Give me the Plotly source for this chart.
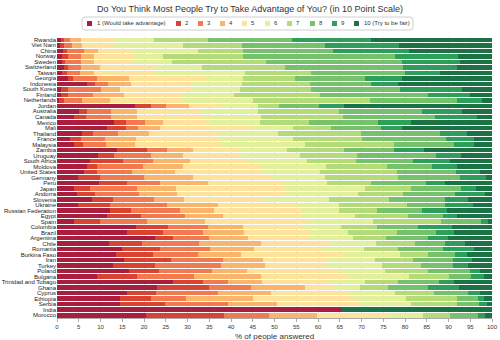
import plotly.graph_objects as go

countries = ["Rwanda", "Viet Nam", "China", "Norway", "Sweden", "Switzerland", "Taiwan", "Georgia",
             "Indonesia", "South Korea", "Finland", "Netherlands", "Jordan", "Australia", "Canada",
             "Mexico", "Mali", "Thailand", "France", "Malaysia", "Zambia", "Uruguay", "South Africa",
             "Moldova", "United States", "Germany", "Peru", "Japan", "Andorra", "Slovenia", "Ukraine",
             "Russian Federation", "Egypt", "Spain", "Colombia", "Brazil", "Argentina", "Chile",
             "Romania", "Burkina Faso", "Iran", "Turkey", "Poland", "Bulgaria", "Trinidad and Tobago",
             "Ghana", "Cyprus", "Ethiopia", "Serbia", "India", "Morocco"]

lvl1 = [0.9, 0.8, 1.4, 1.1, 1.2, 1.7, 1.1, 2.5, 7.0, 0.9, 0.9, 0.5, 17.9, 5.1, 3.9, 13.2, 11.5, 5.7, 2.9, 3.9, 13.7, 9.5, 7.6, 6.8, 6.1, 4.9, 9.7, 4.0, 4.7, 8.0, 4.9, 12.2, 11.4, 3.8, 18.2, 16.2, 22.5, 12.0, 14.9, 13.6, 15.5, 12.9, 16.6, 9.1, 26.6, 23.1, 16.2, 14.5, 14.5, 65.6, 20.5]
lvl2 = [0.6, 0.9, 0.9, 1.5, 0.6, 0.8, 1.1, 1.2, 1.7, 1.6, 1.7, 1.0, 3.7, 1.9, 2.7, 2.7, 4.4, 2.5, 2.6, 2.0, 6.9, 3.7, 7.5, 2.3, 3.0, 5.0, 6.3, 3.6, 4.0, 4.9, 7.3, 4.8, 7.9, 6.1, 7.4, 8.1, 4.1, 7.6, 8.8, 8.5, 10.7, 9.6, 6.9, 9.2, 6.9, 11.8, 6.6, 7.1, 10.3, 0, 18.0]
lvl3 = [1.5, 1.7, 3.9, 2.9, 3.7, 3.0, 3.1, 5.6, 3.1, 7.6, 5.6, 4.2, 3.5, 5.4, 5.8, 4.3, 2.8, 5.9, 5.5, 5.4, 4.7, 8.3, 6.9, 10.7, 8.1, 10.2, 7.7, 10.9, 10.2, 9.5, 13.0, 11.3, 10.1, 10.7, 9.0, 9.3, 8.3, 13.0, 11.5, 10.2, 11.9, 15.2, 12.2, 13.3, 5.7, 9.7, 14.3, 8.0, 14.4, 0, 10.2]
lvl4 = [2.5, 2.3, 3.3, 2.9, 2.9, 4.4, 3.1, 7.2, 5.2, 4.4, 7.2, 6.5, 5.3, 6.1, 6.1, 4.2, 5.0, 7.0, 7.1, 6.6, 6.0, 7.4, 8.6, 9.2, 9.9, 11.1, 11.1, 8.9, 8.6, 6.7, 11.9, 7.9, 8.8, 13.4, 8.2, 9.5, 9.1, 14.3, 10.2, 10.0, 9.3, 10.0, 7.9, 15.3, 8.0, 12.4, 12.1, 15.5, 11.3, 0, 11.0]
lvl5 = [7.8, 7.2, 7.5, 9.1, 9.1, 12.6, 14.1, 17.5, 14.0, 16.5, 13.3, 16.5, 7.6, 14.5, 15.1, 10.8, 20.9, 16.0, 19.4, 20.1, 10.7, 13.1, 13.4, 17.6, 20.3, 18.0, 17.2, 24.9, 24.8, 17.9, 18.0, 20.0, 17.8, 24.0, 13.2, 14.9, 14.0, 15.9, 15.6, 23.7, 14.6, 14.3, 21.4, 20.1, 14.8, 7.0, 17.8, 22.9, 19.5, 0, 16.3]
lvl6 = [9.1, 16.0, 15.5, 6.9, 9.0, 10.8, 20.7, 8.8, 11.5, 11.1, 11.9, 16.4, 8.1, 13.3, 13.4, 11.5, 9.7, 13.8, 16.8, 19.0, 10.8, 13.9, 13.4, 15.2, 13.1, 12.4, 10.1, 18.5, 16.8, 15.5, 9.7, 8.6, 12.5, 14.7, 9.3, 8.8, 10.0, 10.5, 9.6, 12.9, 11.1, 12.6, 10.4, 13.9, 8.7, 5.7, 10.7, 12.2, 11.4, 0, 8.2]
lvl7 = [12.4, 13.6, 10.3, 18.4, 21.5, 19.1, 15.3, 11.8, 15.7, 16.2, 19.9, 26.9, 5.0, 18.5, 18.8, 11.2, 8.7, 19.0, 15.7, 20.5, 13.2, 13.0, 11.3, 14.0, 17.6, 16.7, 10.0, 10.6, 10.5, 13.9, 15.6, 8.7, 12.1, 15.6, 8.2, 11.3, 7.6, 9.0, 7.9, 6.5, 8.8, 9.1, 9.8, 9.2, 7.8, 6.5, 9.0, 11.7, 10.5, 0, 6.1]
lvl8 = [19.2, 19.0, 20.7, 34.9, 31.2, 27.2, 21.5, 16.1, 14.0, 20.6, 24.7, 19.9, 9.1, 19.0, 21.1, 15.8, 11.5, 18.1, 19.5, 13.8, 11.5, 18.2, 13.2, 10.3, 13.6, 14.3, 12.7, 11.5, 11.9, 12.9, 8.9, 10.3, 8.2, 9.2, 9.6, 9.0, 9.6, 6.9, 10.2, 6.1, 9.2, 7.4, 9.7, 5.1, 9.3, 9.2, 7.7, 4.8, 5.0, 0, 6.4]
lvl9 = [18.2, 17.1, 17.4, 14.4, 13.4, 12.3, 8.0, 8.5, 6.1, 14.3, 9.8, 5.9, 5.8, 9.4, 9.6, 7.7, 4.7, 6.3, 6.3, 4.6, 6.9, 5.7, 8.4, 5.8, 5.5, 6.0, 4.4, 3.4, 6.9, 5.1, 6.4, 5.9, 3.1, 1.5, 7.8, 4.2, 4.6, 4.6, 7.2, 2.8, 4.2, 3.3, 2.3, 3.0, 3.5, 6.9, 2.8, 1.5, 1.9, 0, 1.7]
lvl10 = [27.8, 21.4, 19.1, 7.9, 7.4, 8.1, 12.0, 20.8, 21.7, 6.8, 5.0, 2.2, 34.0, 6.8, 3.5, 18.6, 20.8, 5.7, 4.2, 4.1, 15.6, 7.2, 9.7, 8.1, 2.8, 1.4, 10.8, 3.7, 1.6, 5.6, 4.3, 10.3, 8.1, 1.0, 9.1, 8.7, 10.2, 6.2, 4.1, 5.7, 4.7, 5.6, 2.8, 1.8, 8.7, 7.7, 2.8, 1.8, 1.2, 34.4, 1.6]

level_names = ["1 (Would take advantage)", "2", "3", "4", "5", "6", "7", "8", "9", "10 (Try to be fair)"]
x_ticks = [0, 5, 10, 15, 20, 25, 30, 35, 40, 45, 50, 55, 60, 65, 70, 75, 80, 85, 90, 95, 100]

levels = [lvl1, lvl2, lvl3, lvl4, lvl5, lvl6, lvl7, lvl8, lvl9, lvl10]
colors = ["#a91d3f", "#d94432", "#f17a50", "#f8b56b", "#fde39b",
          "#e3f09b", "#b3dc78", "#76c26c", "#2e9e5b", "#1b7245"]

FONT = "Liberation Sans, Arial, sans-serif"
W, H = 500, 340
L, R, T, B = 57, 8, 37, 22
PW, PH = W - L - R, H - T - B


def px(x):
    return (x - L) / PW


def py(y):
    return (H - B - y) / PH


fig = go.Figure()
for name, vals, col in zip(level_names, levels, colors):
    fig.add_trace(go.Bar(
        y=countries, x=vals, name=name, orientation="h",
        marker=dict(color=col, line=dict(width=0)),
        showlegend=False,
    ))

# Manual legend (Plotly's native legend is far too wide for this canvas)
shapes = []
annotations = []
bx0, bx1, by0, by1 = 82, 413, 17, 30
r = 3
path = (f"M {px(bx0 + r)} {py(by0)} L {px(bx1 - r)} {py(by0)} Q {px(bx1)} {py(by0)} {px(bx1)} {py(by0 + r)} "
        f"L {px(bx1)} {py(by1 - r)} Q {px(bx1)} {py(by1)} {px(bx1 - r)} {py(by1)} "
        f"L {px(bx0 + r)} {py(by1)} Q {px(bx0)} {py(by1)} {px(bx0)} {py(by1 - r)} "
        f"L {px(bx0)} {py(by0 + r)} Q {px(bx0)} {py(by0)} {px(bx0 + r)} {py(by0)} Z")
shapes.append(dict(type="path", xref="paper", yref="paper", path=path,
                   line=dict(color="#d0d0d0", width=1), fillcolor="white", layer="above"))
sw_x = [87, 176, 198, 220, 242, 265, 287, 310, 332, 354]
tx_x = [95, 183, 205, 227, 249, 272, 294, 317, 339, 362]
for i, (name, col) in enumerate(zip(level_names, colors)):
    shapes.append(dict(type="rect", xref="paper", yref="paper",
                       x0=px(sw_x[i]), x1=px(sw_x[i] + 5), y0=py(26), y1=py(21),
                       fillcolor=col, line=dict(width=0), layer="above"))
    annotations.append(dict(text=name, xref="paper", yref="paper", x=px(tx_x[i]), y=py(23.5),
                            xanchor="left", yanchor="middle", showarrow=False,
                            font=dict(family=FONT, size=6, color="#333333")))

annotations.append(dict(text="% of people answered", xref="paper", yref="paper",
                        x=0.5, y=py(336), xanchor="center", yanchor="middle", showarrow=False,
                        font=dict(family=FONT, size=8, color="#333333")))

fig.update_layout(
    width=W, height=H,
    margin=dict(l=L, r=R, t=T, b=B, pad=0, autoexpand=False),
    barmode="stack", bargap=0.18,
    paper_bgcolor="white", plot_bgcolor="white",
    font=dict(family=FONT, size=6, color="#222222"),
    title=dict(text="Do You Think Most People Try to Take Advantage of You? (in 10 Point Scale)",
               x=0.5, xref="container", xanchor="center",
               y=1 - 9 / H, yref="container", yanchor="middle",
               font=dict(family=FONT, size=9, color="#333333")),
    shapes=shapes, annotations=annotations,
    xaxis=dict(range=[0, 100], tickmode="array", tickvals=x_ticks, ticktext=[str(t) for t in x_ticks],
               showgrid=True, gridcolor="#e4e4e4", gridwidth=1, automargin=False,
               zeroline=False, showline=True, linecolor="#aaaaaa", linewidth=1,
               ticks="outside", ticklen=3, tickcolor="#aaaaaa",
               tickfont=dict(family=FONT, size=6, color="#333333"), fixedrange=True),
    yaxis=dict(categoryorder="array", categoryarray=countries, autorange="reversed",
               tickmode="array", tickvals=countries, ticktext=countries, automargin=False,
               showgrid=False, zeroline=False, showline=False, ticks="",
               tickfont=dict(family=FONT, size=6, color="#222222"), fixedrange=True),
)

fig.write_html("out.html")
